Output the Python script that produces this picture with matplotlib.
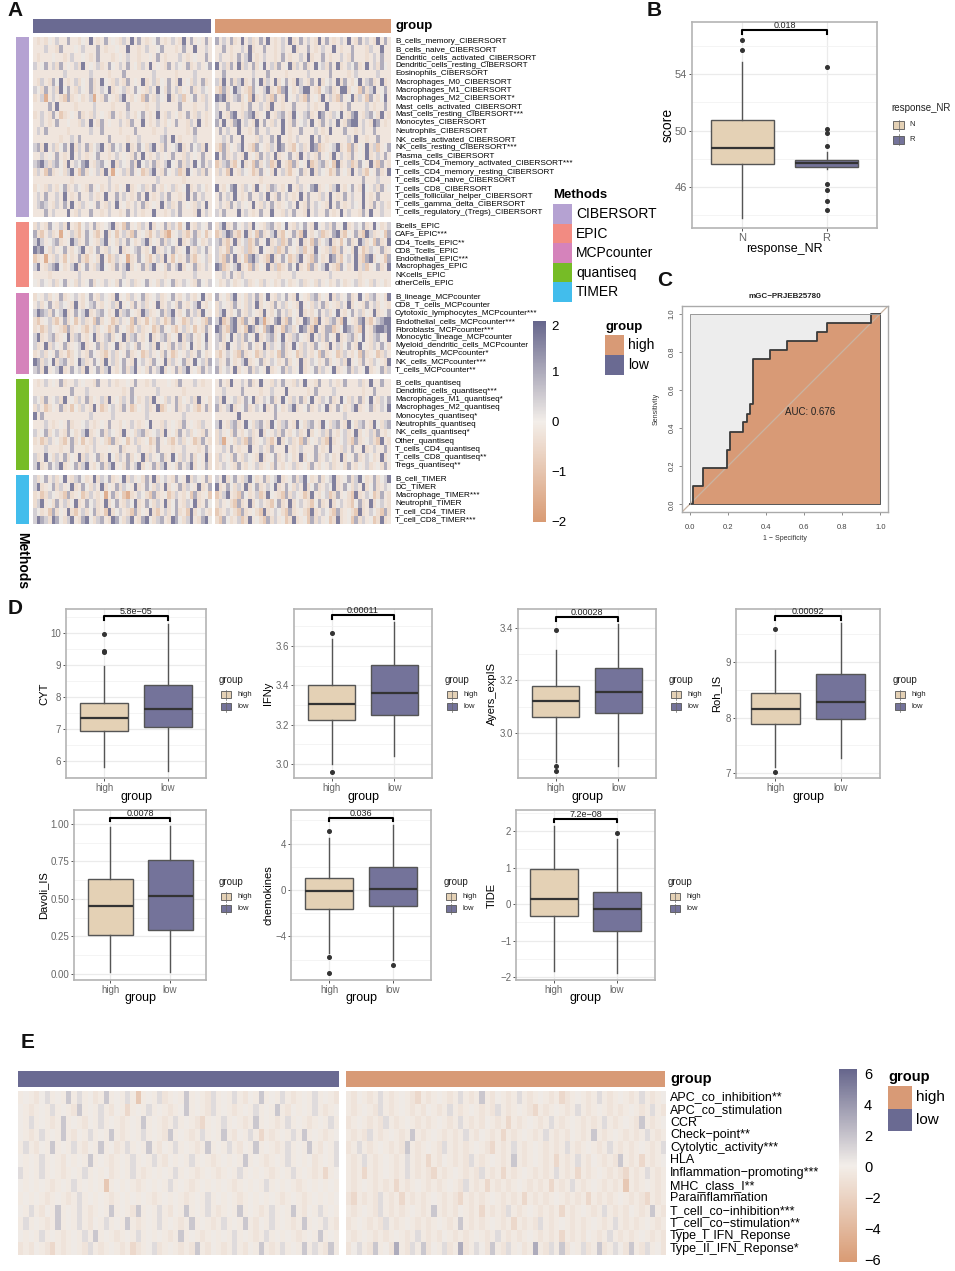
import matplotlib
matplotlib.use('Agg')
import numpy as np
import matplotlib.pyplot as plt
from matplotlib.colors import LinearSegmentedColormap, Normalize
from matplotlib.patches import Rectangle
from matplotlib.cm import ScalarMappable

plt.rcParams['font.family'] = ['Liberation Sans', 'DejaVu Sans']

W, H = 955, 1271

# ---- panel A row names
cibersort_names = ['B_cells_memory_CIBERSORT', 'B_cells_naive_CIBERSORT', 'Dendritic_cells_activated_CIBERSORT',
                   'Dendritic_cells_resting_CIBERSORT', 'Eosinophils_CIBERSORT', 'Macrophages_M0_CIBERSORT',
                   'Macrophages_M1_CIBERSORT', 'Macrophages_M2_CIBERSORT*', 'Mast_cells_activated_CIBERSORT',
                   'Mast_cells_resting_CIBERSORT***', 'Monocytes_CIBERSORT', 'Neutrophils_CIBERSORT',
                   'NK_cells_activated_CIBERSORT', 'NK_cells_resting_CIBERSORT***', 'Plasma_cells_CIBERSORT',
                   'T_cells_CD4_memory_activated_CIBERSORT***', 'T_cells_CD4_memory_resting_CIBERSORT',
                   'T_cells_CD4_naive_CIBERSORT', 'T_cells_CD8_CIBERSORT', 'T_cells_follicular_helper_CIBERSORT',
                   'T_cells_gamma_delta_CIBERSORT', 'T_cells_regulatory_(Tregs)_CIBERSORT']
epic_names = ['Bcells_EPIC', 'CAFs_EPIC***', 'CD4_Tcells_EPIC**', 'CD8_Tcells_EPIC', 'Endothelial_EPIC***',
              'Macrophages_EPIC', 'NKcells_EPIC', 'otherCells_EPIC']
mcp_names = ['B_lineage_MCPcounter', 'CD8_T_cells_MCPcounter', 'Cytotoxic_lymphocytes_MCPcounter***',
             'Endothelial_cells_MCPcounter***', 'Fibroblasts_MCPcounter***', 'Monocytic_lineage_MCPcounter',
             'Myeloid_dendritic_cells_MCPcounter', 'Neutrophils_MCPcounter*', 'NK_cells_MCPcounter***',
             'T_cells_MCPcounter**']
quantiseq_names = ['B_cells_quantiseq', 'Dendritic_cells_quantiseq***', 'Macrophages_M1_quantiseq*',
                   'Macrophages_M2_quantiseq', 'Monocytes_quantiseq*', 'Neutrophils_quantiseq', 'NK_cells_quantiseq*',
                   'Other_quantiseq', 'T_cells_CD4_quantiseq', 'T_cells_CD8_quantiseq**', 'Tregs_quantiseq**']
timer_names = ['B_cell_TIMER', 'DC_TIMER', 'Macrophage_TIMER***', 'Neutrophil_TIMER', 'T_cell_CD4_TIMER',
               'T_cell_CD8_TIMER***']
immune_names = ['APC_co_inhibition**', 'APC_co_stimulation', 'CCR', 'Check\u2212point**', 'Cytolytic_activity***', 'HLA',
                'Inflammation\u2212promoting***', 'MHC_class_I**', 'Parainflammation', 'T_cell_co\u2212inhibition***',
                'T_cell_co\u2212stimulation**', 'Type_I_IFN_Reponse', 'Type_II_IFN_Reponse*']

# heat levels, coarse eye estimates of the strips (one letter = a few samples)
# . base  , peach  o tan  O orange  - pale grey  l grey-blue  L blue  D dark
cibersort_low = [
 ".,.,-.l..L..,-.D.,.L.-.,l.D.L.,.-L.,.l.,D.L.-.L.",
 "...l..,L...-.l...L.,..-..D..,.l..-L...,.L..D..l.",
 ".,...-..,.l..-.,.L...,.-.l..,..-.L.,...l.,.-..L.",
 "l.-L.l,L.-.l,D.-.l,.L-.l.L.-,l.D.-.,L.l-.L,.l.-L",
 "........l......l....,...L.......l.....,....l....",
 ".,l.,L-D.,.l,-.L,.D-.,l.,L.-.D,.l,-.L.,D.-,l.L,.",
 "l-,L.l,D-L.,l-.L,.l-D,.-l,.L-.,l.D-,L.l,-.L,.l-.",
 ",.lO.l.,oL,.-,.lO.,L-.,lD.,-.oL.,l-.D,.lo.-L.,l.",
 "....L.D....,....l....,...L....,..l.....L...,..l.",
 ",.l.,L.o,.-.L,.,l.-.,L.,.l.,-L.,.D.,l.-,.L.,l.,.",
 "..l.,.L..-..,l.D.,L.-..l.,L..D.,.l.,-.L..,l.D.,.",
 ".l.L.....,.....l..L....,...L....,..l.....,.L....",
 ".......,..l.L.......L....,..l.....lL.D.,...l....",
 "lL,D.l,-L.D,l.L,-lD.,L-l.D,.L-,lD.,L.-lD,.L-l,D.",
 "..l.-.L.,.D.l.,.-L..,.l.-.,L.D.,.l.-.L..,l.-.L..",
 "lLDl,lL-,D.l-LD.,lL-.D,l-.L,D-l.L,.lD-.L,l.D-L.l",
 ",l.oL,.-,lD.oL,-.l,D.O-.l,L.-o,lD.,L-.lo,D-.l,L.",
 "..........,.........l............l......,.......",
 ",-.,l.,-L,.l-.,L.-,.l.,-.D,.-l,.L.,-.l,.-D,.l-,.",
 ".l.L..l.D.,.L..l.,.D..L.l.,.L.D.,.l.L..,.D.L.l..",
 ".lLl.,l.L.D.,l.-.L.,l.D.-,.l.L,.-.D.l,.L.-.,l.D.",
 "...L.l...D.,l..L..,.l..,.L.l.,..D..,.l.L...,D.l.",
]
cibersort_high = [
 "L.l.L,.D.l,.L.D.,.l.D,.L.l.,D.L.,.l.D.,L.l.,D.L.",
 "..L.,..l.D,..L..,.l..D,..L.,.l..D.,..L...,l..D..",
 ".l..,.L.lD.,.l..,.L.,..l.D,..L.,..l.,L...,.l.L..",
 "D.l,L.D,l.L,-D.l,L.-D,l.L,.D-l,L.D,.l-L,.D.l,L-.",
 "..L.......l...L....,.....l.....L....,.l.....l...",
 "l,D.L,lD,.L-D,l.D,-L.,Dl.,L.D,-l.D,L.,-D.lL,.D,.",
 ",oL,-Dl.,oL-.lD,.oLD-,.lDD.,o-lL,.DD,-.oL,lD.-L.",
 "DLD,.lL,-oD,.l,oL.,D-.l,oL.-,D.l,oL.-D,l.oL.,-D.",
 "l..L...,.L..l.,D..,..L...l.,..D...,.L....l.,..L.",
 "lD.,LD.,lLD,.-D.,lL.,D-.lL,.DL.,l-D.,LD.,lL-,D.,",
 "L.D.,LD.l.,D.L.,l.D.,L.-l.D.,L.l.D.,LDD.l.,DL.,.",
 ".L.l..D..,.L..l...D.,..L...l.,.D...L..,.l..L....",
 "..l.L..D...,l..L.D..,.l...D.L.,.....l.D..,..L...",
 ",oL,-.lD.,oL-.,l.DL.,o-l,.DLo,.-lD,.oL,-.D,lo.-L",
 "D.L,.l.,D.-,L.l.D,.-L.,D.l.,L.-,D.l.,L.-.D,.l.L.",
 "o,lL,o-D,.oL,-lo,D.,oL,-.Do,lL,-oD,.lo,L-.D,oL.,",
 ",l.oD.,l-.o,L.-,D.l,o.-L,.D,l-.o,L.-,D.l,o-.L,.D",
 "............,.........l.................L...l....",
 "D.,-LD.,l-,D.-,Ll.,-D.,l.-LD,.-,lD.,-L.,D-.l,L.-",
 ".L.l.D.,.L..l.D.,L.l.,.D.L..,l.D.,.L.l..D.,.L...",
 ".l.,L.l.-.D.,l.L.,.-l.D.,L.l-.,D.L.,.l-.D.,L.l.,",
 "l.L...D.l.,.L..D..,l.L..,D.l..L.,.D.l..,L.D..l..",
]
epic_low = [
 ",l.,L-.l,D.,o-l.L,.-lD,.oL.-,l.D,-.L,l.o-D.,l-.L",
 "L,o.l,.O-.l,o.L-,o.D,-o.l,oL.-,o.l,oO.-l,o.L,-o.",
 "lDl.-lL,.-Dl,.L-.,lD.-,l.L-,.lD,-.L,l-.D,.lL-,.l",
 "DLD-,l.-L.,-lD.,-L.,l-.D,.-lL.,-D,.l-L,.-D.,l-L.",
 "o,.O.,l.o-,.L,o.-,D.o,l.-O,.L-,o.l,D.o-,.L,o.-l,",
 "lD.,lLD-,.lD,-L.,lD-.,L.lD,-.L,lD.-,L.lD,-.L,.l.",
 "....,.......l...........l..........,.......l.....",
 "-.l-.l,-L.-,l.-L,-.l.-,L-.l,.-L.-,l.-L,.l-.,L-.l",
]
epic_high = [
 ",lD,.L-.l,D-.,lL.,-D.,l-L.,D-.l,L.-D,.l-L,.D-,.l",
 "o,lDL,o.D,-oL,.lD,o-.L,oD.,-lo,.LD,o-.L,oDl,.-oL",
 "lL,o.D,-lo,L.-D,.lo,L-.D,.oL,-lD,.o-L,.Dl,-oL,.D",
 "l,.oL-.,lo,.D-.,lo,L.-,lo.,D-.,lo,L.-,D.o,l-.L,.",
 "l,oL.D,-oLDl.,oD,.L-o,lD.,oL-,.DL,o-l.D,oLD,-.oL",
 "DLo,-lD,.oL,-.D,lo,.L-D,.oL,-lD.,oL-,.D,lo.-L,.D",
 "..l.L.,l.........,...l.........l.......,.........",
 "-,.l-,.-l,.-,l.-,.l-,.-l,.-,l.-,.l-,.-l,.-,l.-,.",
]
mcp_low = [
 ",-.l,-.L,.-l.,-L.,l-.,D.-,l.-L,.-l,.-L.,-l.,-D.,",
 ".l,-L.,l-.,D.,-lL.,-.l,D.-,L.l,-.D,.l-,L.,-lD.,-",
 "lDLl,L-lD,.L-lD,.lL-,.D,lL-.,Dl,.-L,lD.,-L.l,D-.",
 ",o.-l,o.L,-o.l,.oL,-.o,l.-oL,.o-,l.o,L-.o,l.-,oL",
 ",.o,l-.,oL,.-,o.l,-.o,L.-,o.l,.-o,L.-,o.l,-o.,L.",
 "lD,.lL,.-D,lL.,-D,.lL,-.D,lL.,-D,.lL,-.D,lL.,-D.",
 "l,.D,l-.L,.-lD,.-L,l.-D,.l-,L.-l,D.-,L.l,-D.,-L.",
 ",.l,-.L,.o,-l.,L-.,o.l,-.L,.-o,l.-,L.o,-.l,.L-,.",
 "DL,l-D,lL.,-Dl,.L-,D.l,-L.,D-l.,L-.D,l.-L,.D-l,L",
 "lL,D.-lD,.L-l,D.-L,lD.,-L,lD.-,L.lD,-.L,lD.-,L.l",
]
mcp_high = [
 "L.-,lD.-,l.L,-D.,l-L.,D-.,lL,-.D,l.-L,.D-,lL.-,D",
 ",l-.,L.-,l.D,-.,L.l,-.,D.-,l.L,-.,l.D,-.,L.l,-.,",
 ",lD.,-L.,l-.,D.,-L.l,-.D,.,-L.l,-D.,-L.l,-.D,.-L",
 "lDo,LD,oL.,DlO,.LD,oL-,.DL,oD.,lL,oD-.,LD,o.lLDD",
 "DL,oLD,.oDL,-oLD,.oLl,-DL,oD.,LLo,-DLl,oD.,LDDLD",
 "lL,-D.l,L-.D,.lL,-D.,lL-.,D.l,L-.D,.lL,-D.,lL-.D",
 "l.,D-.l,.L-,.D,l.-L,.D-,l.,L-.,D.l,-L.,D-.,l.L-,",
 ",o.l-,oL,.-o,l.,-oL,.-o,l.,-oL,.-o,l.,-oL,.-o,l.",
 "l,.L-,.lD,.-L,.l-,.L,-.D,.l-,.L,-.l,D.-,L.,l-.,D",
 "L,-l.D,-.L,l-.D,.-L,l.-D,.-L,l.-D,.-L,l.-D,.-L,l",
]
quantiseq_low = [
 ".,.l.-.L,..l.-..,L..l.,..-.L..,.l...-.,L...l.,..",
 "..........L...l.........,.L......l......,.......",
 "l-,L.-l,D.-,l.L,-.l,D.-,l.L-,.l,D.-,l.L,-.l,D.-,",
 ",l.o,-.L,.o-,l.,D.o,-l.,L.o,-.l,.Do,-.L,.l-,o.L,",
 "D.L............l.....l........l.........l.......",
 "...l.,.-.L,..-l.,.-.L..,-.l.,.-D..,l.-.,L.-.,l..",
 "l.-L,-l.,L-,.lD,.-L,l-.,D.-,lL,.-l,D.-,L.l,-.,L.",
 ",.o,l.-,o.L,-o.,l.-,oL,.-o.l,.-o,L.-,o.l,-.o,L.,",
 "...l...,..L...,.l...-..L,...l..,.L...,..l...,.L.",
 "l,.D-,l.L,-.D,l.-L,.D-,l.L,-.D,l.-L,.D-,l.L,-.D,",
 "lD,.L-lD,.-L,lD.,-L,lD.-,L.lD,-.L,lD.-,L.lD,-.L,",
]
quantiseq_high = [
 ".L.,D..l.L,.D..,l.L..,l.D..,L..l.,.L...l,.D..L..",
 "..l....L....,..l...D.....,.L....l.......,..L....",
 "l,D.-l,.L-D,.l-L,.D-,l.L,-D.,l-L,.D-,l.L,-D.,l-L",
 "L,.lD,.-L,.l-D,.L-,.lD,.-L,.l-D,.L-,.lD,.-L,.l-D",
 "......D.........L..................l.............",
 "lD.,lL,.D-,lL.,D-,lL.,D-,lL.,D-,lL.,D-,lL.,D-,lL",
 ",l.-,L.,-l,.D,-.l,L.,-l,.D,-.l,L.,-l,.D,-.l,L.,-",
 ",lO.-,l,oL,.-l,o.D,-l,.oL,-.l,oD,.-l,oL,.-l,oD.,",
 "..l.L.,..D..l.,L...D.,.l...L.,.D..,l.L..D,.l..L.",
 ",l.-,L.,l-.,D,.-L,.l-,.D,-.L,.l-,.D,-.L,.l-,.D,-",
 ",.l-.,L.,-.l,.-,L.,-.l,.-,L.,-.l,.-,L.,-.l,.-,L.",
]
timer_low = [
 "l,-L.l,-D.,lL-,.D,l-L,.-D,l.-,L.D,-l.,L-.D,l-.L,",
 "lD,.-L,l.-D,.L-,l.D,-.L,l-.D,.L-,l.D,-.L,l-.D,.L",
 ",.o,l-.,oL,.-o,l.,-O.L,-oO,.l-,oL,.-o,l.,-oL,.-o",
 ",lD.-,L.l,-D,.L-l,.D,-L.,l-D,.L-,l.D,-L.,l-D,.L-",
 "l-,.oL,-.D,o.l,-L,.oD,-l.,oL,-.D,o.l,-L,.oD,-l.,",
 "lDLl,DL-,lD.,LD-,lL.,DL-,lD.,LD-,lL.,DL-,lD.,LD-",
]
timer_high = [
 "l.D,-L.,lD-,.L,-lD,.-L,lD-,.L,-lD,.-L,lD-,.L,-lD",
 "D,.L-,l.D,-L,.l-D,.L-,l.D,-L,.l-D,.L-,l.D,-L,.l-",
 "o,lD.,oL-,.lo,D-.,oL,l-.o,D.,-lo,L.-,oD,.l-o,L.,",
 ",l.-,oL,.D,-l.,o-L,.D,-l.,o-L,.D,-l.,o-L,.D,-l.,",
 "o,.l-,oL,.-,oD,.l-,oL,.-,oD,.l-,oL,.-,oD,.l-,oL,",
 ",oL-,.lo,D.-,oL,l.-o,D,.-oL,l.-o,D,.-oL,l.-o,D,.",
]
immune_low = [
 ".-.,-l.-.L.l.-,.L.-.l.O.-.l,.-.L.-.,l.-.l.,-.L.-.l.,.-.l.-.,",
 "-.,.-.l.-.,L.-.l.,-.o.-.l.-.,.-L.-.,l.-.,.-.l.-.L.,-.-.l.,.-",
 "-.l.-.,.L.-.,-.l.-.,.-.L.-.,.l.-.,o.-.l.-.,.L.-.,.l.-.,.-.l.",
 "-.,.l.-.L.,-.l.-.L.,.-.l.-.,L.-.,.l.-.L.,-.l.o.,.-.l.L.-.,.-",
 ".l.,-.L.-.l.,-.L.-,.l.-.L.,-.l.-.,.L.-.l.,-.L.-.,.l.-.L.,-.l",
 "-.-.l.-.,-.-.L.-.,.-.l.-.l.,-.-.l.-.,.-.-.L.-.,.-.l.-.-,.-.l",
 "l.-.l.-.,.-.l.-.-,.-.l.,.-.-.l.-.,.-.,.-.l.-.-.,.-.l.-.,.o.-",
 "-.-.-.,.-.l.-.-.O.-.-.,.-.-.l.-.,.-.-.-.,.-.-.l.-.-.,.-.-.-.",
 ".-.-.,.-.,.l.-.-.,.-.-.-.,.-.-.,.-.l.-.-.,.-.-.-.,.-.,.-.-.-",
 "-.l.,-.L.-.l.,.-.L.-.,L.-.l.,-.L.-.l.,.-.L.-.,.l.-.L.,-.l.-.",
 ".l.-.,.L.-.l.,-.l.-.L.,.-.l.-.,.L.-.,.l.-.L.,-.l.-.,.L.-.l.,",
 "-.-.l.-.,.-.l.L.-.,.-.l.-.-.,.L.-.,.-.-.l.-.,.l.-.-.,.-.L.-.",
 ",.,-.,o.,.-.,l.,.-.,.o,.-l,.-.,.,L.,-.,.l.,-.L.,.l.-.L.l.,L.",
]
immune_high = [
 ".,-.,.l.,.-.,o.,.-.,.l.,.L.,-.,.l.,.-.,.o,.-.,.l.,.-.,.l.,.-",
 ".,.-.,l.,.-.,.,-.,.l.,.-.,.,l.,.-.,o.,.-.,.l.,.-.,.,.-.,.l.,",
 ",.-.,.,l.,.-.,.,.-.,.l.,.,-.,.o.,.-.,.l.,.-.,.,.l.,.-.,L.,.-",
 ".,.,l.,.-.,.L.,.-.,.,.l.,-.,.o.,.-.,.l.,.,-.,.L.,.-.,.,.l.,.",
 ",.l.,.-.,.,L.,.-.,l.,.,.-.,o.,.l.,.-.,.,.l.,.-.,.l.,.,.-.,.l",
 ".,.l.,.-.,.l.,.o.,-.,.,l.,.-.,.L.,.-.,.o.,.l.,-.,.,L.,.o.,.-",
 ".,.o.,.-.,.l.,.,o.,.-.,.,l.,.o.,.-.,.,.l.,.o.,.-.,.,o.,.l.,.",
 ".,.-.,.,.o.,.-.,.,.-.,l.,.o.,.,.-.,.,.o.,.l.,.-.,.,.O.,.-.,.",
 ",o.,.,l.,.o.,.,.-.,.,o.,.,.-.,.,.o.,.,.-.,.,.o.,.,.-.,.,o.,.",
 ".,.-.,l.,.,.-.,.L.,.,-.,.o.,.,l.,.-.,.,.o.,.-.,.l.,.,-.,.L.,",
 ",.-.,.,l.,.-.,.,.-.,.L.,.,.-.,.o.,.,l.,.-.,.,.-.,.l.,.,.-.,.",
 ".,.-.,.,.-.,.l.,.,-.,.,.-.,.l.,.,.-.,.,.o.,.,-.,.l.,.,.-.,.,",
 ",-l.,L.-,D.,l.L,-.l,.D,.l-,L.,l.-,.D.,l.L,-.l,.L,.l-,L.,l.-,",
]

# ---- panel B
box_n = [43.8, 47.66, 48.8, 50.78, 54.9]
box_r = [47.3, 47.4, 47.7, 47.9, 48.5]
fliers_n = [56.4, 55.75]
fliers_r = [54.5, 50.15, 49.8, 48.9, 46.2, 45.8, 45.0, 44.35]

# ---- panel C
roc_fpr = [0.0, 0.02, 0.02, 0.07, 0.07, 0.195, 0.195, 0.21, 0.21, 0.28, 0.28, 0.30, 0.30, 0.315, 0.315, 0.333, 0.333,
           0.42, 0.42, 0.51, 0.51, 0.667, 0.667, 0.72, 0.72, 0.95, 0.95, 1.0]
roc_tpr = [0.0, 0.0, 0.095, 0.095, 0.19, 0.19, 0.285, 0.285, 0.38, 0.38, 0.43, 0.43, 0.475, 0.475, 0.525, 0.525, 0.76,
           0.76, 0.81, 0.81, 0.857, 0.857, 0.905, 0.905, 0.95, 0.95, 1.0, 1.0]

# ---- panel D: whisker low, q1, median, q3, whisker high
cyt_high, cyt_low = [5.8, 6.93, 7.35, 7.8, 8.97], [5.68, 7.05, 7.64, 8.38, 10.28]
cyt_out_high, cyt_out_low = [9.98, 9.45, 9.4], []
ifn_high, ifn_low = [3.0, 3.225, 3.305, 3.40, 3.635], [3.04, 3.25, 3.36, 3.505, 3.72]
ifn_out_high, ifn_out_low = [3.665, 2.96], []
ayers_high, ayers_low = [2.89, 3.06, 3.122, 3.18, 3.315], [2.875, 3.077, 3.157, 3.247, 3.415]
ayers_out_high, ayers_out_low = [3.392, 2.875, 2.855], []
roh_high, roh_low = [7.1, 7.89, 8.15, 8.44, 9.22], [7.27, 7.98, 8.29, 8.79, 9.7]
roh_out_high, roh_out_low = [9.6, 7.02], []
davoli_high, davoli_low = [0.01, 0.262, 0.45, 0.635, 0.98], [0.01, 0.293, 0.518, 0.76, 0.985]
davoli_out_high, davoli_out_low = [], []
chemo_high, chemo_low = [-5.4, -1.6, -0.1, 1.0, 4.5], [-6.0, -1.4, 0.1, 2.0, 5.6]
chemo_out_high, chemo_out_low = [5.05, -5.75, -7.15], [-6.45]
tide_high, tide_low = [-1.83, -0.33, 0.15, 0.95, 2.13], [-1.88, -0.74, -0.14, 0.33, 1.78]
tide_out_high, tide_out_low = [], [1.95]

LOW_BAR = '#6A6A92'
HIGH_BAR = '#D89A76'
TAN = '#E4D1B5'
NAVY = '#74739A'
heat_cmap = LinearSegmentedColormap.from_list('heat', ['#D99B74', '#F3EEE9', '#66668C'])

levels = {'.': -0.2, ',': -0.4, 'o': -0.85, 'O': -1.5, '-': 0.08, 'l': 0.45, 'L': 0.95, 'D': 1.6}

fig = plt.figure(figsize=(W / 100, H / 100))


def px_ax(x0, y0, x1, y1):
    return fig.add_axes([x0 / W, 1 - y1 / H, (x1 - x0) / W, (y1 - y0) / H])


def to_matrix(rows, n, scale=1.0):
    return np.array([[levels[c] * scale for c in r.ljust(n, '.')[:n]] for r in rows])


def heat(x0, y0, x1, y1, rows, n, vmax, scale=1.0):
    a = px_ax(x0, y0, x1, y1)
    a.imshow(to_matrix(rows, n, scale), cmap=heat_cmap, vmin=-vmax, vmax=vmax, aspect='auto', interpolation='nearest')
    a.axis('off')


# overlay in pixel coordinates for letters, keys and labels
ov = fig.add_axes([0, 0, 1, 1], zorder=10)
ov.set_xlim(0, W)
ov.set_ylim(H, 0)
ov.axis('off')
ov.patch.set_alpha(0)


def txt(x, y, s, size, **kw):
    kw.setdefault('va', 'center')
    kw.setdefault('ha', 'left')
    ov.text(x, y, s, fontsize=size, **kw)


def swatch(x0, y0, x1, y1, c, **kw):
    ov.add_patch(Rectangle((x0, y0), x1 - x0, y1 - y0, facecolor=c, edgecolor='none', **kw))


# ---- panel A
swatch(33, 19, 211, 33, LOW_BAR)
swatch(215, 19, 391, 33, HIGH_BAR)
txt(395, 26.5, 'group', 9.5, fontweight='bold')

blocks = [(37, 217, '#B5A2D2', cibersort_low, cibersort_high, cibersort_names),
          (222, 287, '#F28B82', epic_low, epic_high, epic_names),
          (293, 374, '#D583BB', mcp_low, mcp_high, mcp_names),
          (379, 470, '#76BC26', quantiseq_low, quantiseq_high, quantiseq_names),
          (475, 524, '#42BDEC', timer_low, timer_high, timer_names)]
for y0, y1, col, low_rows, high_rows, names in blocks:
    swatch(16, y0, 29, y1, col)
    heat(33, y0, 211, y1, low_rows, 48, 2)
    heat(215, y0, 391, y1, high_rows, 48, 2)
    step = (y1 - y0) / len(names)
    for i, name in enumerate(names):
        txt(395, y0 + step * (i + 0.5), name, 5.9)

txt(22, 561, 'Methods', 10, fontweight='bold', rotation=-90, ha='center')
txt(553, 195, 'Methods', 9.5, fontweight='bold')
method_names = ['CIBERSORT', 'EPIC', 'MCPcounter', 'quantiseq', 'TIMER']
for i, m in enumerate(method_names):
    swatch(553, 204 + 19.6 * i, 572, 204 + 19.6 * (i + 1), blocks[i][2])
    txt(576, 214 + 19.6 * i, m, 10)

txt(605, 327, 'group', 9.5, fontweight='bold')
swatch(605, 335, 624, 355, HIGH_BAR)
swatch(605, 355, 624, 375, LOW_BAR)
txt(628, 345, 'high', 10)
txt(628, 365, 'low', 10)

cax = px_ax(533, 321, 546, 522)
cb = fig.colorbar(ScalarMappable(Normalize(-2, 2), heat_cmap), cax=cax)
cb.outline.set_visible(False)
cb.set_ticks([-2, -1, 0, 1, 2], labels=['\u22122', '\u22121', '0', '1', '2'])
cb.ax.tick_params(length=0, labelsize=9.5, pad=4)
cb.ax.get_yticklabels()[-1].set_va('top')


# ---- boxplot panels
def box_panel(x0, y0, x1, y1, ylim, yticks, ylabel, xlabel, names, stats, fliers, colors, p, brk, tip, tick_labels=None,
              label_x=None, xlabel_y=None, label_size=8, tick_size=7):
    a = px_ax(x0, y0, x1, y1)
    a.set_xlim(-0.6, 1.6)
    a.set_ylim(*ylim)
    step = yticks[1] - yticks[0]
    minor = [t + step / 2 for t in [yticks[0] - step] + list(yticks) if ylim[0] < t + step / 2 < ylim[1]]
    a.set_yticks(minor, minor=True)
    a.set_yticks(yticks)
    if tick_labels:
        a.set_yticklabels(tick_labels)
    a.grid(True, which='major', color='#EBEBEB', lw=0.9)
    a.grid(True, which='minor', axis='y', color='#F2F2F2', lw=0.6)
    a.set_axisbelow(True)
    bx = []
    for st, fl in zip(stats, fliers):
        bx.append(dict(whislo=st[0], q1=st[1], med=st[2], q3=st[3], whishi=st[4], fliers=fl))
    res = a.bxp(bx, positions=[0, 1], widths=0.75, patch_artist=True, showcaps=False, manage_ticks=False,
                medianprops=dict(color='#333333', lw=1.6),
                whiskerprops=dict(color='#555555', lw=1.0),
                boxprops=dict(edgecolor='#555555', lw=1.0),
                flierprops=dict(marker='o', markersize=2.6, markerfacecolor='#333333', markeredgecolor='#333333'))
    for b, c in zip(res['boxes'], colors):
        b.set_facecolor(c)
    a.set_xticks([0, 1])
    a.set_xticklabels(names)
    a.tick_params(which='minor', length=0)
    a.tick_params(which='major', length=2, width=0.7, color='#555555', labelcolor='#666666', labelsize=tick_size, pad=1.5)
    for s in a.spines.values():
        s.set_color('#B4B4B4')
        s.set_linewidth(1.2)
    a.plot([0, 0, 1, 1], [tip, brk, brk, tip], color='black', lw=1.5, clip_on=False)
    a.text(0.5, brk, p, ha='center', va='bottom', fontsize=6.5, color='#222222')
    txt(label_x, (y0 + y1) / 2, ylabel, label_size, rotation=90, ha='center')
    txt((x0 + x1) / 2, xlabel_y, xlabel, 9, ha='center')
    return a


def box_key(x, y, title, names, colors, first=14.5, gap=12, kw=10, kh=7):
    # x, y = left of the title and its centre
    txt(x, y, title, 7, color='#222222')
    for i, (n, c) in enumerate(zip(names, colors)):
        yy = y + first + gap * i
        ov.plot([x + 2 + kw / 2, x + 2 + kw / 2], [yy - kh / 2 - 1.5, yy + kh / 2 + 1.5], color='#666666', lw=0.5)
        ov.add_patch(Rectangle((x + 2, yy - kh / 2), kw, kh, facecolor=c, edgecolor='#555555', lw=0.6))
        txt(x + 18, yy, n, 5.5, color='#222222')


box_panel(692, 22, 877, 228, (43.1, 57.7), [46, 50, 54], 'score', 'response_NR', ['N', 'R'], [box_n, box_r],
          [fliers_n, fliers_r], [TAN, NAVY], '0.018', 57.1, 56.85, label_x=668, xlabel_y=249, label_size=10,
          tick_size=8)
box_key(891, 108, 'response_NR', ['N', 'R'], [TAN, NAVY], first=17, gap=14.5, kw=11, kh=8)

group_names = ['high', 'low']
bw = [TAN, NAVY]
row1 = [(66, 206, (5.47, 10.75), [6, 7, 8, 9, 10], 'CYT', cyt_high, cyt_low, cyt_out_high, cyt_out_low, '5.8e\u221205', 10.53, 10.42, 44),
        (294, 432, (2.929, 3.788), [3.0, 3.2, 3.4, 3.6], 'IFNy', ifn_high, ifn_low, ifn_out_high, ifn_out_low, '0.00011', 3.755, 3.735, 268),
        (518, 656, (2.829, 3.472), [3.0, 3.2, 3.4], 'Ayers_expIS', ayers_high, ayers_low, ayers_out_high, ayers_out_low, '0.00028', 3.44, 3.425, 492),
        (736, 880, (6.91, 9.96), [7, 8, 9], 'Roh_IS', roh_high, roh_low, roh_out_high, roh_out_low, '0.00092', 9.83, 9.76, 716)]
for x0, x1, yl, yt, name, hi, lo, ohi, olo, p, brk, tip, lx in row1:
    box_panel(x0, 609, x1, 778, yl, yt, name, 'group', group_names, [hi, lo], [ohi, olo], bw, p, brk, tip,
              label_x=lx, xlabel_y=797)
    box_key(x1 + 13, 680, 'group', group_names, bw)

row2 = [(74, 206, (-0.04, 1.093), [0.0, 0.25, 0.5, 0.75, 1.0], 'Davoli_IS', davoli_high, davoli_low, davoli_out_high, davoli_out_low, '0.0078', 1.042, 1.02, 43,
         ['0.00', '0.25', '0.50', '0.75', '1.00']),
        (291, 431, (-7.76, 6.9), [-4, 0, 4], 'chemokines', chemo_high, chemo_low, chemo_out_high, chemo_out_low, '0.036', 6.25, 5.95, 268,
         ['\u22124', '0', '4']),
        (516, 655, (-2.08, 2.575), [-2, -1, 0, 1, 2], 'TIDE', tide_high, tide_low, tide_out_high, tide_out_low, '7.2e\u221208', 2.33, 2.24, 492,
         ['\u22122', '\u22121', '0', '1', '2'])]
for x0, x1, yl, yt, name, hi, lo, ohi, olo, p, brk, tip, lx, tl in row2:
    box_panel(x0, 810, x1, 980, yl, yt, name, 'group', group_names, [hi, lo], [ohi, olo], bw, p, brk, tip,
              tick_labels=tl, label_x=lx, xlabel_y=998)
    box_key(x1 + 13, 882, 'group', group_names, bw)

# ---- panel C
c = px_ax(682, 306, 888, 512)
c.set_xlim(-0.04, 1.04)
c.set_ylim(-0.04, 1.04)
c.fill_between([0, 1], [0, 0], [1, 1], color='#EDEDED', lw=0)
c.fill_between(roc_fpr, 0, roc_tpr, color=HIGH_BAR, lw=0)
c.plot([-0.04, 1.04], [-0.04, 1.04], color='#C9B4A2', lw=0.9)
c.plot(roc_fpr, roc_tpr, color='#3A3A3A', lw=1.3)
c.plot([0, 1, 1], [0, 0, 1], color='#555555', lw=0.7)
c.plot([0, 0, 1], [0, 1, 1], color='#999999', lw=0.7)
c.set_xticks([0, 0.2, 0.4, 0.6, 0.8, 1.0])
c.set_yticks([0, 0.2, 0.4, 0.6, 0.8, 1.0])
c.tick_params(length=2.5, width=0.6, color='#777777', labelsize=5.5, labelcolor='#444444', pad=2)
c.tick_params(axis='x', pad=6)
for t in c.get_yticklabels():
    t.set_rotation(90)
    t.set_va('center')
for s in c.spines.values():
    s.set_color('#AAAAAA')
    s.set_linewidth(1.0)
c.text(0.63, 0.483, 'AUC: 0.676', ha='center', va='center', fontsize=7, color='#222222')
txt(785, 297, 'mGC\u2212PRJEB25780', 5.8, fontweight='bold', ha='center', color='#222222')
txt(785, 538, '1 \u2212 Specificity', 5, ha='center', color='#333333')
txt(656, 409, 'Sensitivity', 5, rotation=90, ha='center', color='#333333')

# ---- panel E
swatch(18, 1071, 339, 1087, LOW_BAR)
swatch(346, 1071, 665, 1087, HIGH_BAR)
heat(18, 1091, 339, 1255, immune_low, 60, 6, scale=1.8)
heat(346, 1091, 665, 1255, immune_high, 60, 6, scale=1.8)
txt(670, 1079, 'group', 10.5, fontweight='bold')
step_e = (1255 - 1091) / len(immune_names)
for i, name in enumerate(immune_names):
    txt(670, 1091 + step_e * (i + 0.5), name, 9)

cax2 = px_ax(839, 1069, 857, 1262)
cb2 = fig.colorbar(ScalarMappable(Normalize(-6.13, 6.32), heat_cmap), cax=cax2)
cb2.outline.set_visible(False)
cb2.set_ticks([-6, -4, -2, 0, 2, 4, 6], labels=['\u22126', '\u22124', '\u22122', '0', '2', '4', '6'])
cb2.ax.tick_params(length=0, labelsize=10.5, pad=5)

txt(888, 1077, 'group', 10.5, fontweight='bold')
swatch(888, 1086, 912, 1109, HIGH_BAR)
swatch(888, 1109, 912, 1131, LOW_BAR)
txt(916, 1097, 'high', 11)
txt(916, 1120, 'low', 11)

# panel letters
for s, x, y in [('A', 7, 11), ('B', 647, 11), ('C', 657, 281), ('D', 8, 609), ('E', 21, 1042)]:
    txt(x, y, s, 15, fontweight='bold', color='#111111')

plt.savefig('out.png', dpi=100)
